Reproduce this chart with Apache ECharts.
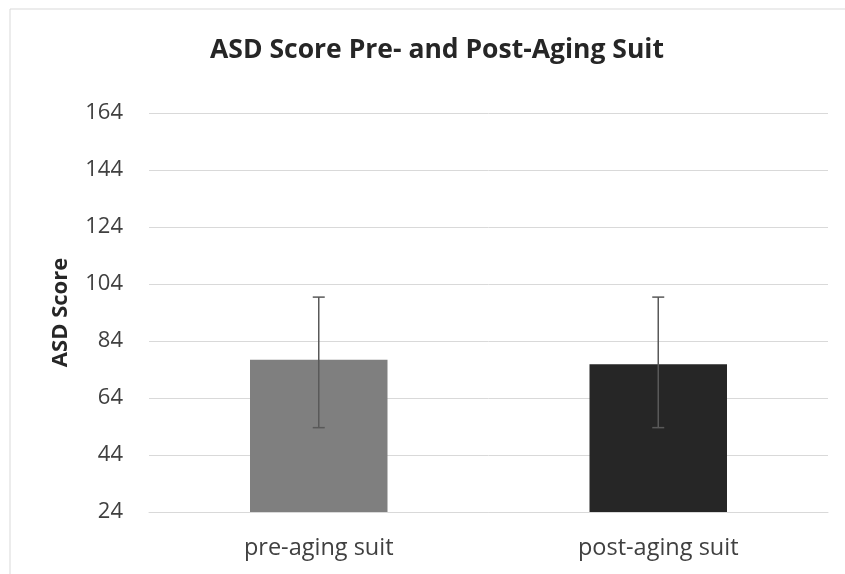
<!DOCTYPE html>
<html>
<head>
<meta charset="utf-8">
<script src="https://cdn.jsdelivr.net/npm/echarts@6/dist/echarts.min.js"></script>
<style>
  html, body { margin: 0; padding: 0; background: #fff; }
  #chart { width: 845px; height: 574px; }
</style>
</head>
<body>
<div id="chart"></div>
<script>
var categories = ['pre-aging suit', 'post-aging suit'];
var scores = [77.4, 75.8];
var errLow = [53.6, 53.6];
var errHigh = [99.4, 99.4];
var barColors = ['#7f7f7f', '#262626'];
var yTicks = [24, 44, 64, 84, 104, 124, 144, 164];

var chart = echarts.init(document.getElementById('chart'));

var errData = categories.map(function (c, i) {
    return [i, errLow[i], errHigh[i]];
});

var option = {
    animation: false,
    textStyle: { fontFamily: 'Open Sans' },
    graphic: [{
        type: 'rect',
        shape: { x: 10, y: 9, width: 900, height: 600 },
        style: { fill: 'none', stroke: '#d9d9d9', lineWidth: 1 },
        silent: true
    }],
    title: {
        text: 'ASD Score Pre- and Post-Aging Suit',
        left: 432,
        top: 32,
        textAlign: 'center',
        textStyle: { fontSize: 26.5, fontWeight: 'bold', color: '#262626', fontFamily: 'Open Sans' }
    },
    grid: { left: 149, right: 17, top: 113, bottom: 62 },
    xAxis: {
        type: 'category',
        data: categories,
        axisTick: { show: false },
        axisLine: { lineStyle: { color: '#d9d9d9', width: 1 } },
        axisLabel: { color: '#404040', fontSize: 23.5, margin: 24 }
    },
    yAxis: {
        type: 'value',
        min: yTicks[0],
        max: yTicks[yTicks.length - 1],
        interval: 20,
        name: 'ASD Score',
        nameLocation: 'middle',
        nameGap: 77,
        nameTextStyle: { fontSize: 22, fontWeight: 'bold', color: '#262626' },
        axisLine: { show: false },
        axisTick: { show: false },
        axisLabel: { color: '#404040', fontSize: 22, margin: 26 },
        splitLine: { lineStyle: { color: '#d9d9d9', width: 1 } }
    },
    series: [{
        type: 'bar',
        barWidth: '40.5%',
        data: scores.map(function (v, i) {
            return { value: v, itemStyle: { color: barColors[i] } };
        })
    }, {
        type: 'custom',
        data: errData,
        z: 10,
        renderItem: function (params, api) {
            var x = api.value(0);
            var lo = api.coord([x, api.value(1)]);
            var hi = api.coord([x, api.value(2)]);
            var cap = 6;
            var st = { stroke: '#595959', lineWidth: 1.5 };
            return {
                type: 'group',
                children: [
                    { type: 'line', shape: { x1: hi[0], y1: hi[1], x2: lo[0], y2: lo[1] }, style: st },
                    { type: 'line', shape: { x1: hi[0] - cap, y1: hi[1], x2: hi[0] + cap, y2: hi[1] }, style: st },
                    { type: 'line', shape: { x1: lo[0] - cap, y1: lo[1], x2: lo[0] + cap, y2: lo[1] }, style: st }
                ]
            };
        }
    }]
};

chart.setOption(option);
</script>
</body>
</html>
